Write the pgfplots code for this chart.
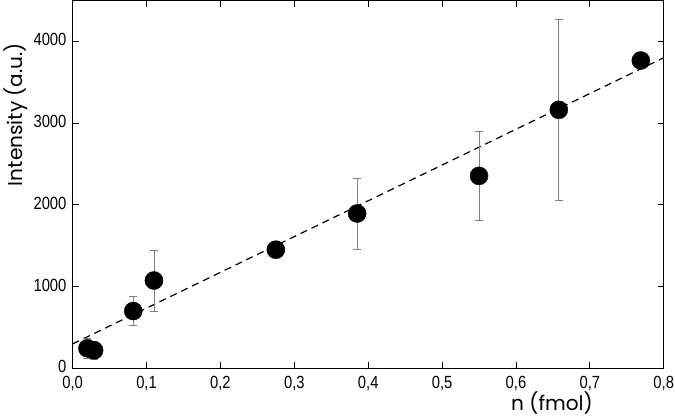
\documentclass[border=0pt]{standalone}
\usepackage{pgfplots}
\pgfplotsset{compat=1.18}
\usepackage{fontspec}
\setmainfont{Liberation Sans}
\newfontfamily\tickfont[FakeStretch=0.84]{Liberation Sans}
\newfontfamily\labelfont{Poppins}
\begin{document}
\begin{tikzpicture}
\begin{axis}[
  scale only axis,
  width=588pt, height=366pt,
  xmin=0, xmax=0.8, ymin=0, ymax=4500,
  xtick={0,0.1,...,0.8},
  ytick={0,1000,2000,3000,4000},
  tick align=inside,
  major tick length=6pt,
  axis line style={line width=1pt},
  every tick/.style={black, line width=0.9pt},
  /pgf/number format/assume math mode=true,
  tick label style={font=\tickfont\fontsize{17.5}{19}\selectfont, inner sep=1pt},
  xticklabel style={yshift=-7pt, /pgf/number format/.cd, use comma, fixed, fixed zerofill, precision=1},
  yticklabel style={xshift=-5pt, yshift=1.5pt, /pgf/number format/.cd, 1000 sep={}},
  xlabel={n (fmol)},
  ylabel={Intensity (a.u.)},
  label style={font=\labelfont\fontsize{20}{22}\selectfont},
  xlabel style={at={(axis description cs:0.811,-0.055)}, anchor=north},
  ylabel style={at={(axis description cs:-0.097,0.69)}, anchor=center},
  clip=false,
]
\addplot[black, line width=1.2pt, dash pattern=on 7pt off 5pt] coordinates {(0,300) (0.8,3800)};
\addplot[only marks, mark=*, mark size=9pt, black,
  error bars/.cd, y dir=both, y explicit,
  error bar style={gray, line width=0.7pt},
  error mark options={gray, rotate=90, mark size=4pt, line width=0.7pt}]
  coordinates {
  (0.020,246) +- (0,120)
  (0.029,222) +- (0,110)
  (0.082,702) +- (0,180)
  (0.110,1075) +- (0,375)
  (0.275,1452) +- (0,0)
  (0.385,1895) +- (0,435)
  (0.550,2355) +- (0,540)
  (0.658,3163) +- (0,1110)
  (0.769,3766) +- (0,0)
  };
\end{axis}
\end{tikzpicture}
\end{document}
